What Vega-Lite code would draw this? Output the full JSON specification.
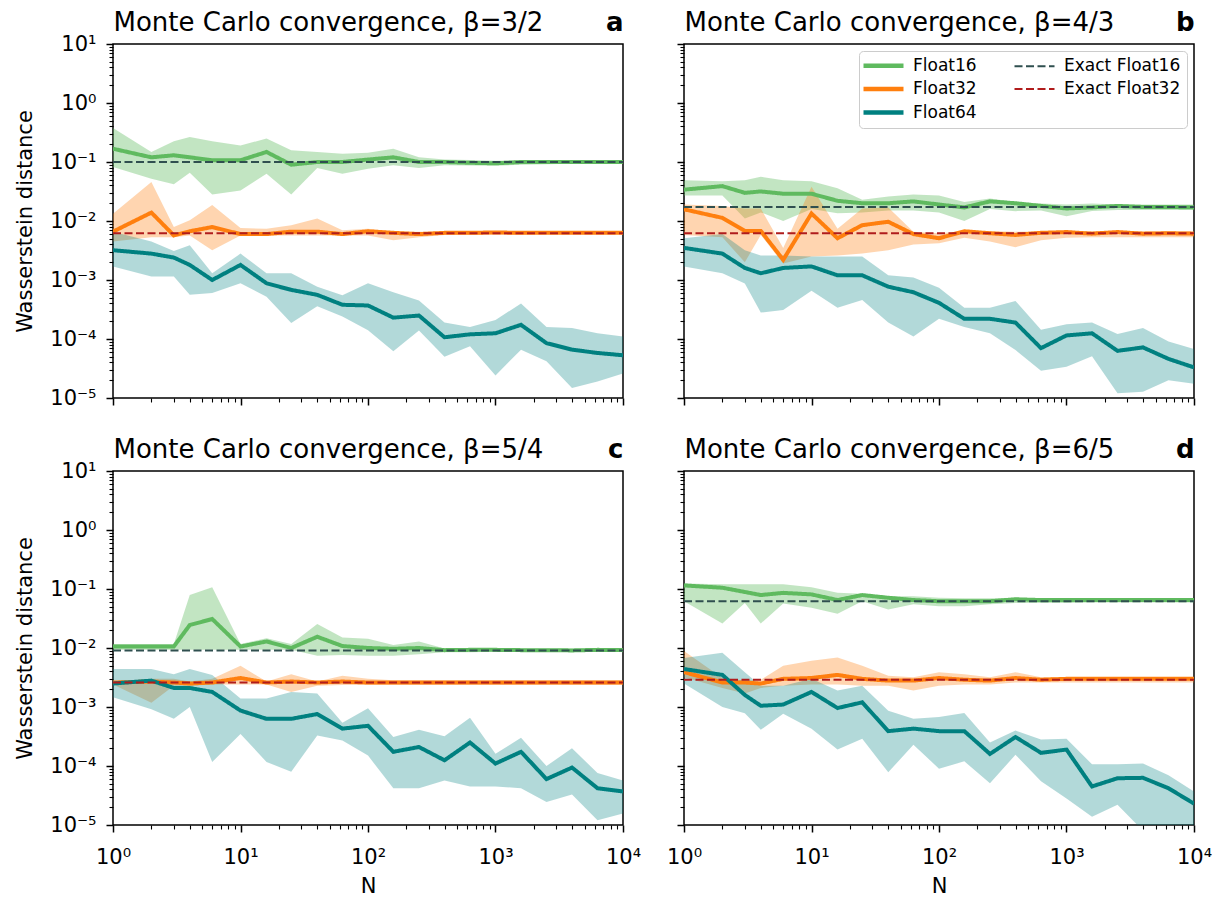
{
  "$schema": "https://vega.github.io/schema/vega-lite/v6.json",
  "background": "white",
  "padding": {"left": 13, "top": 8, "right": 6, "bottom": 4},
  "columns": 2,
  "spacing": {"row": 73, "column": 61},
  "bounds": "flush",
  "resolve": {
    "scale": {"color": "independent", "strokeDash": "independent"},
    "legend": {"color": "independent", "strokeDash": "independent"}
  },
  "config": {
    "font": "DejaVu Sans",
    "view": {"stroke": "black", "strokeWidth": 1.5},
    "axis": {
      "domain": false, "grid": false,
      "tickColor": "black", "labelColor": "black", "titleColor": "black",
      "labelFont": "DejaVu Sans", "titleFont": "DejaVu Sans",
      "labelFontSize": 21, "titleFontSize": 21, "titleFontWeight": "normal",
      "labelOverlap": false, "labelFlush": false, "labelBound": false
    },
    "legend": {
      "symbolSize": 400, "symbolStrokeWidth": 4,
      "labelFont": "DejaVu Sans", "labelFontSize": 17, "labelColor": "black",
      "labelOffset": 31, "columnPadding": 33, "rowPadding": 4.5, "padding": 6,
      "strokeColor": "#cccccc", "fillColor": "white", "cornerRadius": 4
    }
  },
  "datasets": {
    "mc": [
      {"panel":"a","series":"Float16","N":1,"value":0.168,"lower":0.082,"upper":0.376},
      {"panel":"a","series":"Float16","N":2,"value":0.12,"lower":0.052,"upper":0.148},
      {"panel":"a","series":"Float16","N":3,"value":0.13,"lower":0.042,"upper":0.224},
      {"panel":"a","series":"Float16","N":4,"value":0.12,"lower":0.066,"upper":0.265},
      {"panel":"a","series":"Float16","N":6,"value":0.107,"lower":0.028,"upper":0.224},
      {"panel":"a","series":"Float16","N":10,"value":0.107,"lower":0.033,"upper":0.19},
      {"panel":"a","series":"Float16","N":16,"value":0.148,"lower":0.063,"upper":0.25},
      {"panel":"a","series":"Float16","N":25,"value":0.09,"lower":0.028,"upper":0.158},
      {"panel":"a","series":"Float16","N":40,"value":0.1,"lower":0.079,"upper":0.148},
      {"panel":"a","series":"Float16","N":63,"value":0.1,"lower":0.063,"upper":0.138},
      {"panel":"a","series":"Float16","N":100,"value":0.11,"lower":0.077,"upper":0.143},
      {"panel":"a","series":"Float16","N":158,"value":0.12,"lower":0.088,"upper":0.168},
      {"panel":"a","series":"Float16","N":251,"value":0.1,"lower":0.079,"upper":0.12},
      {"panel":"a","series":"Float16","N":398,"value":0.1,"lower":0.088,"upper":0.11},
      {"panel":"a","series":"Float16","N":631,"value":0.097,"lower":0.087,"upper":0.108},
      {"panel":"a","series":"Float16","N":1000,"value":0.095,"lower":0.086,"upper":0.105},
      {"panel":"a","series":"Float16","N":1585,"value":0.1,"lower":0.09,"upper":0.107},
      {"panel":"a","series":"Float16","N":2512,"value":0.1,"lower":0.092,"upper":0.106},
      {"panel":"a","series":"Float16","N":3981,"value":0.1,"lower":0.093,"upper":0.106},
      {"panel":"a","series":"Float16","N":6310,"value":0.1,"lower":0.094,"upper":0.105},
      {"panel":"a","series":"Float16","N":10000,"value":0.1,"lower":0.095,"upper":0.105},
      {"panel":"a","series":"Float32","N":1,"value":0.0066,"lower":0.0045,"upper":0.0133},
      {"panel":"a","series":"Float32","N":2,"value":0.0139,"lower":0.0053,"upper":0.046},
      {"panel":"a","series":"Float32","N":3,"value":0.0057,"lower":0.0053,"upper":0.0079},
      {"panel":"a","series":"Float32","N":4,"value":0.0067,"lower":0.0057,"upper":0.0103},
      {"panel":"a","series":"Float32","N":6,"value":0.0079,"lower":0.0032,"upper":0.0186},
      {"panel":"a","series":"Float32","N":10,"value":0.006,"lower":0.0057,"upper":0.0076},
      {"panel":"a","series":"Float32","N":16,"value":0.006,"lower":0.0057,"upper":0.0074},
      {"panel":"a","series":"Float32","N":25,"value":0.0066,"lower":0.0057,"upper":0.0085},
      {"panel":"a","series":"Float32","N":40,"value":0.0066,"lower":0.0057,"upper":0.011},
      {"panel":"a","series":"Float32","N":63,"value":0.006,"lower":0.0057,"upper":0.007},
      {"panel":"a","series":"Float32","N":100,"value":0.0067,"lower":0.0057,"upper":0.0074},
      {"panel":"a","series":"Float32","N":158,"value":0.0063,"lower":0.0047,"upper":0.0066},
      {"panel":"a","series":"Float32","N":251,"value":0.006,"lower":0.0053,"upper":0.0066},
      {"panel":"a","series":"Float32","N":398,"value":0.0063,"lower":0.0058,"upper":0.0066},
      {"panel":"a","series":"Float32","N":631,"value":0.0063,"lower":0.0058,"upper":0.0066},
      {"panel":"a","series":"Float32","N":1000,"value":0.0064,"lower":0.0059,"upper":0.0066},
      {"panel":"a","series":"Float32","N":1585,"value":0.0063,"lower":0.0059,"upper":0.0066},
      {"panel":"a","series":"Float32","N":2512,"value":0.0063,"lower":0.006,"upper":0.0066},
      {"panel":"a","series":"Float32","N":3981,"value":0.0063,"lower":0.006,"upper":0.0066},
      {"panel":"a","series":"Float32","N":6310,"value":0.0063,"lower":0.006,"upper":0.0066},
      {"panel":"a","series":"Float32","N":10000,"value":0.0063,"lower":0.006,"upper":0.0066},
      {"panel":"a","series":"Float64","N":1,"value":0.0032,"lower":0.0017,"upper":0.0066},
      {"panel":"a","series":"Float64","N":2,"value":0.0028,"lower":0.00115,"upper":0.0045},
      {"panel":"a","series":"Float64","N":3,"value":0.0024,"lower":0.00115,"upper":0.0031},
      {"panel":"a","series":"Float64","N":4,"value":0.0018,"lower":0.00056,"upper":0.0039},
      {"panel":"a","series":"Float64","N":6,"value":0.001,"lower":0.0006,"upper":0.0013},
      {"panel":"a","series":"Float64","N":10,"value":0.0018,"lower":0.00088,"upper":0.0028},
      {"panel":"a","series":"Float64","N":16,"value":0.00088,"lower":0.00052,"upper":0.0013},
      {"panel":"a","series":"Float64","N":25,"value":0.00068,"lower":0.000186,"upper":0.0013},
      {"panel":"a","series":"Float64","N":40,"value":0.00056,"lower":0.00036,"upper":0.00077},
      {"panel":"a","series":"Float64","N":63,"value":0.00038,"lower":0.00024,"upper":0.00055},
      {"panel":"a","series":"Float64","N":100,"value":0.00037,"lower":0.000141,"upper":0.00088},
      {"panel":"a","series":"Float64","N":158,"value":0.00023,"lower":0.000062,"upper":0.00062},
      {"panel":"a","series":"Float64","N":251,"value":0.00025,"lower":0.00014,"upper":0.00045},
      {"panel":"a","series":"Float64","N":398,"value":0.000107,"lower":0.00005,"upper":0.00019},
      {"panel":"a","series":"Float64","N":631,"value":0.00012,"lower":0.000075,"upper":0.00016},
      {"panel":"a","series":"Float64","N":1000,"value":0.000125,"lower":0.000024,"upper":0.00021},
      {"panel":"a","series":"Float64","N":1585,"value":0.000174,"lower":0.000066,"upper":0.0004},
      {"panel":"a","series":"Float64","N":2512,"value":0.000085,"lower":0.000042,"upper":0.00016},
      {"panel":"a","series":"Float64","N":3981,"value":0.000066,"lower":0.0000148,"upper":0.000153},
      {"panel":"a","series":"Float64","N":6310,"value":0.000058,"lower":0.000019,"upper":0.000125},
      {"panel":"a","series":"Float64","N":10000,"value":0.000053,"lower":0.000026,"upper":0.00011},

      {"panel":"b","series":"Float16","N":1,"value":0.034,"lower":0.027,"upper":0.049},
      {"panel":"b","series":"Float16","N":2,"value":0.039,"lower":0.027,"upper":0.047},
      {"panel":"b","series":"Float16","N":3,"value":0.03,"lower":0.011,"upper":0.049},
      {"panel":"b","series":"Float16","N":4,"value":0.0317,"lower":0.014,"upper":0.056},
      {"panel":"b","series":"Float16","N":6,"value":0.029,"lower":0.01,"upper":0.049},
      {"panel":"b","series":"Float16","N":10,"value":0.029,"lower":0.016,"upper":0.047},
      {"panel":"b","series":"Float16","N":16,"value":0.022,"lower":0.0135,"upper":0.036},
      {"panel":"b","series":"Float16","N":25,"value":0.02,"lower":0.014,"upper":0.023},
      {"panel":"b","series":"Float16","N":40,"value":0.02,"lower":0.0151,"upper":0.026},
      {"panel":"b","series":"Float16","N":63,"value":0.0215,"lower":0.0151,"upper":0.028},
      {"panel":"b","series":"Float16","N":100,"value":0.019,"lower":0.014,"upper":0.027},
      {"panel":"b","series":"Float16","N":158,"value":0.017,"lower":0.01,"upper":0.021},
      {"panel":"b","series":"Float16","N":251,"value":0.0215,"lower":0.016,"upper":0.024},
      {"panel":"b","series":"Float16","N":398,"value":0.02,"lower":0.0147,"upper":0.021},
      {"panel":"b","series":"Float16","N":631,"value":0.018,"lower":0.0151,"upper":0.0198},
      {"panel":"b","series":"Float16","N":1000,"value":0.0163,"lower":0.012,"upper":0.019},
      {"panel":"b","series":"Float16","N":1585,"value":0.017,"lower":0.0148,"upper":0.0198},
      {"panel":"b","series":"Float16","N":2512,"value":0.018,"lower":0.0153,"upper":0.019},
      {"panel":"b","series":"Float16","N":3981,"value":0.0173,"lower":0.0153,"upper":0.019},
      {"panel":"b","series":"Float16","N":6310,"value":0.0173,"lower":0.0153,"upper":0.019},
      {"panel":"b","series":"Float16","N":10000,"value":0.017,"lower":0.0153,"upper":0.019},
      {"panel":"b","series":"Float32","N":1,"value":0.0158,"lower":0.0058,"upper":0.019},
      {"panel":"b","series":"Float32","N":2,"value":0.0113,"lower":0.0053,"upper":0.018},
      {"panel":"b","series":"Float32","N":3,"value":0.0068,"lower":0.002,"upper":0.0163},
      {"panel":"b","series":"Float32","N":4,"value":0.0068,"lower":0.0058,"upper":0.0163},
      {"panel":"b","series":"Float32","N":6,"value":0.0022,"lower":0.0019,"upper":0.0035},
      {"panel":"b","series":"Float32","N":10,"value":0.0134,"lower":0.0025,"upper":0.038},
      {"panel":"b","series":"Float32","N":16,"value":0.0051,"lower":0.0026,"upper":0.0074},
      {"panel":"b","series":"Float32","N":25,"value":0.0085,"lower":0.0028,"upper":0.0163},
      {"panel":"b","series":"Float32","N":40,"value":0.0097,"lower":0.0032,"upper":0.017},
      {"panel":"b","series":"Float32","N":63,"value":0.006,"lower":0.004,"upper":0.0066},
      {"panel":"b","series":"Float32","N":100,"value":0.0051,"lower":0.0042,"upper":0.0062},
      {"panel":"b","series":"Float32","N":158,"value":0.0067,"lower":0.0052,"upper":0.0068},
      {"panel":"b","series":"Float32","N":251,"value":0.0062,"lower":0.0045,"upper":0.0068},
      {"panel":"b","series":"Float32","N":398,"value":0.0058,"lower":0.0036,"upper":0.0066},
      {"panel":"b","series":"Float32","N":631,"value":0.0063,"lower":0.0047,"upper":0.0067},
      {"panel":"b","series":"Float32","N":1000,"value":0.0065,"lower":0.0052,"upper":0.0067},
      {"panel":"b","series":"Float32","N":1585,"value":0.0061,"lower":0.0053,"upper":0.0067},
      {"panel":"b","series":"Float32","N":2512,"value":0.0065,"lower":0.0053,"upper":0.0067},
      {"panel":"b","series":"Float32","N":3981,"value":0.0061,"lower":0.0053,"upper":0.0067},
      {"panel":"b","series":"Float32","N":6310,"value":0.0062,"lower":0.0053,"upper":0.0067},
      {"panel":"b","series":"Float32","N":10000,"value":0.0061,"lower":0.0053,"upper":0.0067},
      {"panel":"b","series":"Float64","N":1,"value":0.0035,"lower":0.0017,"upper":0.0051},
      {"panel":"b","series":"Float64","N":2,"value":0.0028,"lower":0.0013,"upper":0.006},
      {"panel":"b","series":"Float64","N":3,"value":0.0016,"lower":0.00087,"upper":0.0032},
      {"panel":"b","series":"Float64","N":4,"value":0.0013,"lower":0.00028,"upper":0.0026},
      {"panel":"b","series":"Float64","N":6,"value":0.0016,"lower":0.00031,"upper":0.0026},
      {"panel":"b","series":"Float64","N":10,"value":0.0017,"lower":0.00066,"upper":0.0025},
      {"panel":"b","series":"Float64","N":16,"value":0.0012,"lower":0.00034,"upper":0.0025},
      {"panel":"b","series":"Float64","N":25,"value":0.0012,"lower":0.00046,"upper":0.0025},
      {"panel":"b","series":"Float64","N":40,"value":0.00077,"lower":0.00019,"upper":0.0012},
      {"panel":"b","series":"Float64","N":63,"value":0.00062,"lower":0.00011,"upper":0.0011},
      {"panel":"b","series":"Float64","N":100,"value":0.00041,"lower":0.00022,"upper":0.00074},
      {"panel":"b","series":"Float64","N":158,"value":0.00022,"lower":0.00016,"upper":0.00034},
      {"panel":"b","series":"Float64","N":251,"value":0.00022,"lower":0.000125,"upper":0.00034},
      {"panel":"b","series":"Float64","N":398,"value":0.00019,"lower":0.000065,"upper":0.00044},
      {"panel":"b","series":"Float64","N":631,"value":0.00007,"lower":0.000029,"upper":0.000143},
      {"panel":"b","series":"Float64","N":1000,"value":0.000115,"lower":0.000034,"upper":0.000178},
      {"panel":"b","series":"Float64","N":1585,"value":0.000125,"lower":0.000051,"upper":0.00019},
      {"panel":"b","series":"Float64","N":2512,"value":0.000063,"lower":0.000012,"upper":0.000122},
      {"panel":"b","series":"Float64","N":3981,"value":0.000072,"lower":0.0000128,"upper":0.000153},
      {"panel":"b","series":"Float64","N":6310,"value":0.000046,"lower":0.00002,"upper":0.000091},
      {"panel":"b","series":"Float64","N":10000,"value":0.000033,"lower":0.0000175,"upper":0.000068},

      {"panel":"c","series":"Float16","N":1,"value":0.0106,"lower":0.0093,"upper":0.0117},
      {"panel":"c","series":"Float16","N":2,"value":0.0106,"lower":0.0093,"upper":0.0117},
      {"panel":"c","series":"Float16","N":3,"value":0.0106,"lower":0.0093,"upper":0.0117},
      {"panel":"c","series":"Float16","N":4,"value":0.0245,"lower":0.0093,"upper":0.079},
      {"panel":"c","series":"Float16","N":6,"value":0.031,"lower":0.0093,"upper":0.107},
      {"panel":"c","series":"Float16","N":10,"value":0.0106,"lower":0.0093,"upper":0.0117},
      {"panel":"c","series":"Float16","N":16,"value":0.0129,"lower":0.0093,"upper":0.0146},
      {"panel":"c","series":"Float16","N":25,"value":0.01,"lower":0.0093,"upper":0.0117},
      {"panel":"c","series":"Float16","N":40,"value":0.0155,"lower":0.0074,"upper":0.0255},
      {"panel":"c","series":"Float16","N":63,"value":0.0108,"lower":0.0076,"upper":0.015},
      {"panel":"c","series":"Float16","N":100,"value":0.01,"lower":0.0074,"upper":0.0143},
      {"panel":"c","series":"Float16","N":158,"value":0.0097,"lower":0.0074,"upper":0.0112},
      {"panel":"c","series":"Float16","N":251,"value":0.01,"lower":0.0078,"upper":0.0129},
      {"panel":"c","series":"Float16","N":398,"value":0.0092,"lower":0.0085,"upper":0.0098},
      {"panel":"c","series":"Float16","N":631,"value":0.0093,"lower":0.0085,"upper":0.0099},
      {"panel":"c","series":"Float16","N":1000,"value":0.0093,"lower":0.0086,"upper":0.0097},
      {"panel":"c","series":"Float16","N":1585,"value":0.0092,"lower":0.0086,"upper":0.0097},
      {"panel":"c","series":"Float16","N":2512,"value":0.0092,"lower":0.0086,"upper":0.0097},
      {"panel":"c","series":"Float16","N":3981,"value":0.0091,"lower":0.0086,"upper":0.0097},
      {"panel":"c","series":"Float16","N":6310,"value":0.0093,"lower":0.0086,"upper":0.0097},
      {"panel":"c","series":"Float16","N":10000,"value":0.0092,"lower":0.0086,"upper":0.0097},
      {"panel":"c","series":"Float32","N":1,"value":0.0026,"lower":0.0024,"upper":0.0027},
      {"panel":"c","series":"Float32","N":2,"value":0.0027,"lower":0.00118,"upper":0.003},
      {"panel":"c","series":"Float32","N":3,"value":0.0026,"lower":0.0023,"upper":0.003},
      {"panel":"c","series":"Float32","N":4,"value":0.0025,"lower":0.0023,"upper":0.0027},
      {"panel":"c","series":"Float32","N":6,"value":0.0026,"lower":0.0024,"upper":0.003},
      {"panel":"c","series":"Float32","N":10,"value":0.0031,"lower":0.0024,"upper":0.005},
      {"panel":"c","series":"Float32","N":16,"value":0.0026,"lower":0.0024,"upper":0.0027},
      {"panel":"c","series":"Float32","N":25,"value":0.0027,"lower":0.0018,"upper":0.0036},
      {"panel":"c","series":"Float32","N":40,"value":0.0026,"lower":0.0023,"upper":0.0027},
      {"panel":"c","series":"Float32","N":63,"value":0.0027,"lower":0.00235,"upper":0.0034},
      {"panel":"c","series":"Float32","N":100,"value":0.0026,"lower":0.00235,"upper":0.003},
      {"panel":"c","series":"Float32","N":158,"value":0.0026,"lower":0.00235,"upper":0.00285},
      {"panel":"c","series":"Float32","N":251,"value":0.0026,"lower":0.00235,"upper":0.00285},
      {"panel":"c","series":"Float32","N":398,"value":0.0026,"lower":0.00235,"upper":0.00285},
      {"panel":"c","series":"Float32","N":631,"value":0.0026,"lower":0.00235,"upper":0.00285},
      {"panel":"c","series":"Float32","N":1000,"value":0.0026,"lower":0.00235,"upper":0.00285},
      {"panel":"c","series":"Float32","N":1585,"value":0.0026,"lower":0.00235,"upper":0.00285},
      {"panel":"c","series":"Float32","N":2512,"value":0.0026,"lower":0.00235,"upper":0.00285},
      {"panel":"c","series":"Float32","N":3981,"value":0.0026,"lower":0.00235,"upper":0.00285},
      {"panel":"c","series":"Float32","N":6310,"value":0.0026,"lower":0.00235,"upper":0.00285},
      {"panel":"c","series":"Float32","N":10000,"value":0.0026,"lower":0.00235,"upper":0.00285},
      {"panel":"c","series":"Float64","N":1,"value":0.0025,"lower":0.00146,"upper":0.0044},
      {"panel":"c","series":"Float64","N":2,"value":0.0028,"lower":0.00092,"upper":0.0044},
      {"panel":"c","series":"Float64","N":3,"value":0.0021,"lower":0.00063,"upper":0.0036},
      {"panel":"c","series":"Float64","N":4,"value":0.0021,"lower":0.001,"upper":0.0044},
      {"panel":"c","series":"Float64","N":6,"value":0.0018,"lower":0.000117,"upper":0.0035},
      {"panel":"c","series":"Float64","N":10,"value":0.00087,"lower":0.00035,"upper":0.0014},
      {"panel":"c","series":"Float64","N":16,"value":0.00063,"lower":0.000117,"upper":0.0014},
      {"panel":"c","series":"Float64","N":25,"value":0.00063,"lower":0.00008,"upper":0.0018},
      {"panel":"c","series":"Float64","N":40,"value":0.00076,"lower":0.00033,"upper":0.0017},
      {"panel":"c","series":"Float64","N":63,"value":0.00043,"lower":0.00027,"upper":0.00054},
      {"panel":"c","series":"Float64","N":100,"value":0.00048,"lower":0.00015,"upper":0.00095},
      {"panel":"c","series":"Float64","N":158,"value":0.000174,"lower":0.000042,"upper":0.00031},
      {"panel":"c","series":"Float64","N":251,"value":0.00021,"lower":0.000042,"upper":0.00041},
      {"panel":"c","series":"Float64","N":398,"value":0.000125,"lower":0.000057,"upper":0.00032},
      {"panel":"c","series":"Float64","N":631,"value":0.00025,"lower":0.000045,"upper":0.00066},
      {"panel":"c","series":"Float64","N":1000,"value":0.00011,"lower":0.000045,"upper":0.000162},
      {"panel":"c","series":"Float64","N":1585,"value":0.000174,"lower":0.000042,"upper":0.0003},
      {"panel":"c","series":"Float64","N":2512,"value":0.00006,"lower":0.0000246,"upper":0.0001},
      {"panel":"c","series":"Float64","N":3981,"value":0.000094,"lower":0.000033,"upper":0.0002},
      {"panel":"c","series":"Float64","N":6310,"value":0.000042,"lower":0.000012,"upper":0.000076},
      {"panel":"c","series":"Float64","N":10000,"value":0.000037,"lower":0.0000156,"upper":0.000057},

      {"panel":"d","series":"Float16","N":1,"value":0.115,"lower":0.062,"upper":0.124},
      {"panel":"d","series":"Float16","N":2,"value":0.105,"lower":0.026,"upper":0.12},
      {"panel":"d","series":"Float16","N":3,"value":0.089,"lower":0.058,"upper":0.12},
      {"panel":"d","series":"Float16","N":4,"value":0.079,"lower":0.026,"upper":0.12},
      {"panel":"d","series":"Float16","N":6,"value":0.086,"lower":0.057,"upper":0.12},
      {"panel":"d","series":"Float16","N":10,"value":0.081,"lower":0.048,"upper":0.107},
      {"panel":"d","series":"Float16","N":16,"value":0.065,"lower":0.038,"upper":0.086},
      {"panel":"d","series":"Float16","N":25,"value":0.079,"lower":0.062,"upper":0.083},
      {"panel":"d","series":"Float16","N":40,"value":0.071,"lower":0.045,"upper":0.075},
      {"panel":"d","series":"Float16","N":63,"value":0.065,"lower":0.055,"upper":0.075},
      {"panel":"d","series":"Float16","N":100,"value":0.062,"lower":0.051,"upper":0.071},
      {"panel":"d","series":"Float16","N":158,"value":0.062,"lower":0.051,"upper":0.07},
      {"panel":"d","series":"Float16","N":251,"value":0.062,"lower":0.055,"upper":0.07},
      {"panel":"d","series":"Float16","N":398,"value":0.067,"lower":0.058,"upper":0.071},
      {"panel":"d","series":"Float16","N":631,"value":0.065,"lower":0.058,"upper":0.069},
      {"panel":"d","series":"Float16","N":1000,"value":0.065,"lower":0.058,"upper":0.069},
      {"panel":"d","series":"Float16","N":1585,"value":0.065,"lower":0.059,"upper":0.069},
      {"panel":"d","series":"Float16","N":2512,"value":0.065,"lower":0.059,"upper":0.069},
      {"panel":"d","series":"Float16","N":3981,"value":0.065,"lower":0.059,"upper":0.069},
      {"panel":"d","series":"Float16","N":6310,"value":0.065,"lower":0.059,"upper":0.069},
      {"panel":"d","series":"Float16","N":10000,"value":0.065,"lower":0.059,"upper":0.069},
      {"panel":"d","series":"Float32","N":1,"value":0.0039,"lower":0.0032,"upper":0.0089},
      {"panel":"d","series":"Float32","N":2,"value":0.0026,"lower":0.0021,"upper":0.0031},
      {"panel":"d","series":"Float32","N":3,"value":0.0026,"lower":0.0017,"upper":0.0028},
      {"panel":"d","series":"Float32","N":4,"value":0.0025,"lower":0.0021,"upper":0.0029},
      {"panel":"d","series":"Float32","N":6,"value":0.003,"lower":0.0023,"upper":0.005},
      {"panel":"d","series":"Float32","N":10,"value":0.0031,"lower":0.0024,"upper":0.0061},
      {"panel":"d","series":"Float32","N":16,"value":0.0035,"lower":0.0024,"upper":0.0069},
      {"panel":"d","series":"Float32","N":25,"value":0.003,"lower":0.0023,"upper":0.005},
      {"panel":"d","series":"Float32","N":40,"value":0.0028,"lower":0.0023,"upper":0.0034},
      {"panel":"d","series":"Float32","N":63,"value":0.0028,"lower":0.0019,"upper":0.0032},
      {"panel":"d","series":"Float32","N":100,"value":0.0031,"lower":0.0023,"upper":0.0039},
      {"panel":"d","series":"Float32","N":158,"value":0.0029,"lower":0.0024,"upper":0.0036},
      {"panel":"d","series":"Float32","N":251,"value":0.0028,"lower":0.0024,"upper":0.0032},
      {"panel":"d","series":"Float32","N":398,"value":0.0031,"lower":0.0026,"upper":0.0039},
      {"panel":"d","series":"Float32","N":631,"value":0.0029,"lower":0.0026,"upper":0.0032},
      {"panel":"d","series":"Float32","N":1000,"value":0.003,"lower":0.0026,"upper":0.0032},
      {"panel":"d","series":"Float32","N":1585,"value":0.003,"lower":0.0026,"upper":0.0032},
      {"panel":"d","series":"Float32","N":2512,"value":0.003,"lower":0.0026,"upper":0.0032},
      {"panel":"d","series":"Float32","N":3981,"value":0.003,"lower":0.0026,"upper":0.0032},
      {"panel":"d","series":"Float32","N":6310,"value":0.003,"lower":0.0026,"upper":0.0032},
      {"panel":"d","series":"Float32","N":10000,"value":0.003,"lower":0.0026,"upper":0.0032},
      {"panel":"d","series":"Float64","N":1,"value":0.0044,"lower":0.0025,"upper":0.0068},
      {"panel":"d","series":"Float64","N":2,"value":0.0035,"lower":0.001,"upper":0.0083},
      {"panel":"d","series":"Float64","N":3,"value":0.0016,"lower":0.00078,"upper":0.0039},
      {"panel":"d","series":"Float64","N":4,"value":0.00105,"lower":0.00041,"upper":0.0023},
      {"panel":"d","series":"Float64","N":6,"value":0.0011,"lower":0.00077,"upper":0.0023},
      {"panel":"d","series":"Float64","N":10,"value":0.0018,"lower":0.00043,"upper":0.003},
      {"panel":"d","series":"Float64","N":16,"value":0.00096,"lower":0.00019,"upper":0.0019},
      {"panel":"d","series":"Float64","N":25,"value":0.0012,"lower":0.00029,"upper":0.0023},
      {"panel":"d","series":"Float64","N":40,"value":0.00039,"lower":0.000078,"upper":0.00086},
      {"panel":"d","series":"Float64","N":63,"value":0.00043,"lower":0.00023,"upper":0.00063},
      {"panel":"d","series":"Float64","N":100,"value":0.00039,"lower":0.00009,"upper":0.00068},
      {"panel":"d","series":"Float64","N":158,"value":0.00039,"lower":0.00012,"upper":0.00079},
      {"panel":"d","series":"Float64","N":251,"value":0.00016,"lower":0.000051,"upper":0.00025},
      {"panel":"d","series":"Float64","N":398,"value":0.00031,"lower":0.000155,"upper":0.0004},
      {"panel":"d","series":"Float64","N":631,"value":0.000167,"lower":0.000055,"upper":0.00028},
      {"panel":"d","series":"Float64","N":1000,"value":0.00019,"lower":0.000028,"upper":0.00029},
      {"panel":"d","series":"Float64","N":1585,"value":0.000045,"lower":0.0000138,"upper":0.000107},
      {"panel":"d","series":"Float64","N":2512,"value":0.000062,"lower":0.000022,"upper":0.000107},
      {"panel":"d","series":"Float64","N":3981,"value":0.000063,"lower":0.000008,"upper":0.00011},
      {"panel":"d","series":"Float64","N":6310,"value":0.000042,"lower":0.0000058,"upper":0.00007},
      {"panel":"d","series":"Float64","N":10000,"value":0.000023,"lower":0.0000049,"upper":0.000037}
    ],
    "exact": [
      {"panel":"a","series":"Exact Float16","N":1,"value":0.1},
      {"panel":"a","series":"Exact Float16","N":10000,"value":0.1},
      {"panel":"a","series":"Exact Float32","N":1,"value":0.0062},
      {"panel":"a","series":"Exact Float32","N":10000,"value":0.0062},
      {"panel":"b","series":"Exact Float16","N":1,"value":0.0173},
      {"panel":"b","series":"Exact Float16","N":10000,"value":0.0173},
      {"panel":"b","series":"Exact Float32","N":1,"value":0.0062},
      {"panel":"b","series":"Exact Float32","N":10000,"value":0.0062},
      {"panel":"c","series":"Exact Float16","N":1,"value":0.0091},
      {"panel":"c","series":"Exact Float16","N":10000,"value":0.0091},
      {"panel":"c","series":"Exact Float32","N":1,"value":0.0026},
      {"panel":"c","series":"Exact Float32","N":10000,"value":0.0026},
      {"panel":"d","series":"Exact Float16","N":1,"value":0.062},
      {"panel":"d","series":"Exact Float16","N":10000,"value":0.062},
      {"panel":"d","series":"Exact Float32","N":1,"value":0.0029},
      {"panel":"d","series":"Exact Float32","N":10000,"value":0.0029}
    ]
  },
  "concat": [
    {
      "width": 510, "height": 354,
      "resolve": {"axis": {"x": "independent"}},
      "layer": [
        {
          "data": {"name": "mc"},
          "transform": [{"filter": "datum.panel == 'a' && datum.series == 'Float16'"}],
          "mark": {"type": "area", "color": "#5fba5f", "opacity": 0.38, "clip": true},
          "encoding": {
            "x": {"field": "N", "type": "quantitative", "scale": {"type": "log", "domain": [1, 10000], "nice": false},
              "axis": {"orient": "bottom", "values": [1,2,3,4,5,6,7,8,9,10,20,30,40,50,60,70,80,90,100,200,300,400,500,600,700,800,900,1000,2000,3000,4000,5000,6000,7000,8000,9000,10000],
                "labels": false, "title": null,
                "tickSize": {"condition": {"test": "indexof([1,10,100,1000,10000], datum.value) >= 0", "value": 7}, "value": 4},
                "tickWidth": {"condition": {"test": "indexof([1,10,100,1000,10000], datum.value) >= 0", "value": 1.5}, "value": 1.1}}},
            "y": {"field": "lower", "type": "quantitative", "scale": {"type": "log", "domain": [0.00001, 10], "nice": false},
              "axis": {"orient": "left", "values": [0.00001,0.00002,0.00003,0.00004,0.00005,0.00006,0.00007,0.00008,0.00009,0.0001,0.0002,0.0003,0.0004,0.0005,0.0006,0.0007,0.0008,0.0009,0.001,0.002,0.003,0.004,0.005,0.006,0.007,0.008,0.009,0.01,0.02,0.03,0.04,0.05,0.06,0.07,0.08,0.09,0.1,0.2,0.3,0.4,0.5,0.6,0.7,0.8,0.9,1,2,3,4,5,6,7,8,9,10],
                "labelExpr": "datum.value == 10 ? '10¹' : datum.value == 1 ? '10⁰' : datum.value == 0.1 ? '10⁻¹' : datum.value == 0.01 ? '10⁻²' : datum.value == 0.001 ? '10⁻³' : datum.value == 0.0001 ? '10⁻⁴' : datum.value == 0.00001 ? '10⁻⁵' : ''",
                "labelPadding": 10,
                "tickSize": {"condition": {"test": "indexof([0.00001,0.0001,0.001,0.01,0.1,1,10], datum.value) >= 0", "value": 7}, "value": 4},
                "tickWidth": {"condition": {"test": "indexof([0.00001,0.0001,0.001,0.01,0.1,1,10], datum.value) >= 0", "value": 1.5}, "value": 1.1},
                "title": "Wasserstein distance", "titleX": -82, "titleY": 177, "titleAngle": 270, "titleAlign": "center", "titleBaseline": "alphabetic"}},
            "y2": {"field": "upper"}
          }
        },
        {
          "data": {"name": "mc"},
          "transform": [{"filter": "datum.panel == 'a' && datum.series == 'Float32'"}],
          "mark": {"type": "area", "color": "#ff7f0e", "opacity": 0.33, "clip": true},
          "encoding": {
            "x": {"field": "N", "type": "quantitative", "axis": null},
            "y": {"field": "lower", "type": "quantitative"},
            "y2": {"field": "upper"}
          }
        },
        {
          "data": {"name": "mc"},
          "transform": [{"filter": "datum.panel == 'a' && datum.series == 'Float64'"}],
          "mark": {"type": "area", "color": "#008080", "opacity": 0.3, "clip": true},
          "encoding": {
            "x": {"field": "N", "type": "quantitative", "axis": null},
            "y": {"field": "lower", "type": "quantitative"},
            "y2": {"field": "upper"}
          }
        },
        {
          "data": {"name": "mc"},
          "transform": [{"filter": "datum.panel == 'a'"}],
          "mark": {"type": "line", "strokeWidth": 4, "clip": true},
          "encoding": {
            "x": {"field": "N", "type": "quantitative", "axis": {"orient": "top", "ticks": false, "labels": false, "domain": false, "title": "a", "titleFontSize": 26, "titleFontWeight": "bold", "titleX": 510, "titleY": -14, "titleAlign": "right", "titleBaseline": "alphabetic", "titleAngle": 0}},
            "y": {"field": "value", "type": "quantitative"},
            "color": {"field": "series", "type": "nominal", "scale": {"domain": ["Float16", "Float32", "Float64", "Exact Float16", "Exact Float32"], "range": ["#5fba5f", "#ff7f0e", "#008080", "#2f4f4f", "#b01c1c"]}, "legend": null},
            "strokeDash": {"field": "series", "type": "nominal", "scale": {"domain": ["Float16", "Float32", "Float64", "Exact Float16", "Exact Float32"], "range": [[1,0],[1,0],[1,0],[8,3.5],[8,3.5]]}, "legend": null}
          }
        },
        {
          "data": {"name": "exact"},
          "transform": [{"filter": "datum.panel == 'a'"}],
          "mark": {"type": "line", "strokeWidth": 2, "clip": true},
          "encoding": {
            "x": {"field": "N", "type": "quantitative", "axis": {"orient": "top", "ticks": false, "labels": false, "domain": false, "title": "Monte Carlo convergence, β=3/2", "titleFontSize": 26, "titleFontWeight": "normal", "titleX": 0, "titleY": -14, "titleAlign": "left", "titleBaseline": "alphabetic", "titleAngle": 0}},
            "y": {"field": "value", "type": "quantitative"},
            "color": {"field": "series", "type": "nominal", "scale": {"domain": ["Float16", "Float32", "Float64", "Exact Float16", "Exact Float32"], "range": ["#5fba5f", "#ff7f0e", "#008080", "#2f4f4f", "#b01c1c"]}, "legend": null},
            "strokeDash": {"field": "series", "type": "nominal", "scale": {"domain": ["Float16", "Float32", "Float64", "Exact Float16", "Exact Float32"], "range": [[1,0],[1,0],[1,0],[8,3.5],[8,3.5]]}, "legend": null}
          }
        }
      ]
    },
    {
      "width": 510, "height": 354,
      "resolve": {"axis": {"x": "independent"}},
      "layer": [
        {
          "data": {"name": "mc"},
          "transform": [{"filter": "datum.panel == 'b' && datum.series == 'Float16'"}],
          "mark": {"type": "area", "color": "#5fba5f", "opacity": 0.38, "clip": true},
          "encoding": {
            "x": {"field": "N", "type": "quantitative", "scale": {"type": "log", "domain": [1, 10000], "nice": false},
              "axis": {"orient": "bottom", "values": [1,2,3,4,5,6,7,8,9,10,20,30,40,50,60,70,80,90,100,200,300,400,500,600,700,800,900,1000,2000,3000,4000,5000,6000,7000,8000,9000,10000],
                "labels": false, "title": null,
                "tickSize": {"condition": {"test": "indexof([1,10,100,1000,10000], datum.value) >= 0", "value": 7}, "value": 4},
                "tickWidth": {"condition": {"test": "indexof([1,10,100,1000,10000], datum.value) >= 0", "value": 1.5}, "value": 1.1}}},
            "y": {"field": "lower", "type": "quantitative", "scale": {"type": "log", "domain": [0.00001, 10], "nice": false},
              "axis": {"orient": "left", "values": [0.00001,0.00002,0.00003,0.00004,0.00005,0.00006,0.00007,0.00008,0.00009,0.0001,0.0002,0.0003,0.0004,0.0005,0.0006,0.0007,0.0008,0.0009,0.001,0.002,0.003,0.004,0.005,0.006,0.007,0.008,0.009,0.01,0.02,0.03,0.04,0.05,0.06,0.07,0.08,0.09,0.1,0.2,0.3,0.4,0.5,0.6,0.7,0.8,0.9,1,2,3,4,5,6,7,8,9,10],
                "labels": false, "title": null,
                "tickSize": {"condition": {"test": "indexof([0.00001,0.0001,0.001,0.01,0.1,1,10], datum.value) >= 0", "value": 7}, "value": 4},
                "tickWidth": {"condition": {"test": "indexof([0.00001,0.0001,0.001,0.01,0.1,1,10], datum.value) >= 0", "value": 1.5}, "value": 1.1}}},
            "y2": {"field": "upper"}
          }
        },
        {
          "data": {"name": "mc"},
          "transform": [{"filter": "datum.panel == 'b' && datum.series == 'Float32'"}],
          "mark": {"type": "area", "color": "#ff7f0e", "opacity": 0.33, "clip": true},
          "encoding": {
            "x": {"field": "N", "type": "quantitative", "axis": null},
            "y": {"field": "lower", "type": "quantitative"},
            "y2": {"field": "upper"}
          }
        },
        {
          "data": {"name": "mc"},
          "transform": [{"filter": "datum.panel == 'b' && datum.series == 'Float64'"}],
          "mark": {"type": "area", "color": "#008080", "opacity": 0.3, "clip": true},
          "encoding": {
            "x": {"field": "N", "type": "quantitative", "axis": null},
            "y": {"field": "lower", "type": "quantitative"},
            "y2": {"field": "upper"}
          }
        },
        {
          "data": {"name": "mc"},
          "transform": [{"filter": "datum.panel == 'b'"}],
          "mark": {"type": "line", "strokeWidth": 4, "clip": true},
          "encoding": {
            "x": {"field": "N", "type": "quantitative", "axis": {"orient": "top", "ticks": false, "labels": false, "domain": false, "title": "b", "titleFontSize": 26, "titleFontWeight": "bold", "titleX": 510, "titleY": -14, "titleAlign": "right", "titleBaseline": "alphabetic", "titleAngle": 0}},
            "y": {"field": "value", "type": "quantitative"},
            "color": {"field": "series", "type": "nominal", "scale": {"domain": ["Float16", "Float32", "Float64", "Exact Float16", "Exact Float32"], "range": ["#5fba5f", "#ff7f0e", "#008080", "#2f4f4f", "#b01c1c"]},
              "legend": {"orient": "top-right", "offset": 7, "columns": 2, "title": null, "symbolType": "M-1,0H3", "encode": {"symbols": {"update": {"strokeWidth": {"signal": "indexof(['Exact Float16','Exact Float32'], datum.value) >= 0 ? 2 : 4.5"}}}}}},
            "strokeDash": {"field": "series", "type": "nominal", "scale": {"domain": ["Float16", "Float32", "Float64", "Exact Float16", "Exact Float32"], "range": [[1,0],[1,0],[1,0],[8,3.5],[8,3.5]]},
              "legend": {"orient": "top-right", "offset": 7, "columns": 2, "title": null, "symbolType": "M-1,0H3", "encode": {"symbols": {"update": {"strokeWidth": {"signal": "indexof(['Exact Float16','Exact Float32'], datum.value) >= 0 ? 2 : 4.5"}}}}}}
          }
        },
        {
          "data": {"name": "exact"},
          "transform": [{"filter": "datum.panel == 'b'"}],
          "mark": {"type": "line", "strokeWidth": 2, "clip": true},
          "encoding": {
            "x": {"field": "N", "type": "quantitative", "axis": {"orient": "top", "ticks": false, "labels": false, "domain": false, "title": "Monte Carlo convergence, β=4/3", "titleFontSize": 26, "titleFontWeight": "normal", "titleX": 0, "titleY": -14, "titleAlign": "left", "titleBaseline": "alphabetic", "titleAngle": 0}},
            "y": {"field": "value", "type": "quantitative"},
            "color": {"field": "series", "type": "nominal", "scale": {"domain": ["Float16", "Float32", "Float64", "Exact Float16", "Exact Float32"], "range": ["#5fba5f", "#ff7f0e", "#008080", "#2f4f4f", "#b01c1c"]},
              "legend": {"orient": "top-right", "offset": 7, "columns": 2, "title": null, "symbolType": "M-1,0H3", "encode": {"symbols": {"update": {"strokeWidth": {"signal": "indexof(['Exact Float16','Exact Float32'], datum.value) >= 0 ? 2 : 4.5"}}}}}},
            "strokeDash": {"field": "series", "type": "nominal", "scale": {"domain": ["Float16", "Float32", "Float64", "Exact Float16", "Exact Float32"], "range": [[1,0],[1,0],[1,0],[8,3.5],[8,3.5]]},
              "legend": {"orient": "top-right", "offset": 7, "columns": 2, "title": null, "symbolType": "M-1,0H3", "encode": {"symbols": {"update": {"strokeWidth": {"signal": "indexof(['Exact Float16','Exact Float32'], datum.value) >= 0 ? 2 : 4.5"}}}}}}
          }
        }
      ]
    },
    {
      "width": 510, "height": 354,
      "resolve": {"axis": {"x": "independent"}},
      "layer": [
        {
          "data": {"name": "mc"},
          "transform": [{"filter": "datum.panel == 'c' && datum.series == 'Float16'"}],
          "mark": {"type": "area", "color": "#5fba5f", "opacity": 0.38, "clip": true},
          "encoding": {
            "x": {"field": "N", "type": "quantitative", "scale": {"type": "log", "domain": [1, 10000], "nice": false},
              "axis": {"orient": "bottom", "values": [1,2,3,4,5,6,7,8,9,10,20,30,40,50,60,70,80,90,100,200,300,400,500,600,700,800,900,1000,2000,3000,4000,5000,6000,7000,8000,9000,10000],
                "labelExpr": "datum.value == 1 ? '10⁰' : datum.value == 10 ? '10¹' : datum.value == 100 ? '10²' : datum.value == 1000 ? '10³' : datum.value == 10000 ? '10⁴' : ''",
                "labelPadding": 14,
                "tickSize": {"condition": {"test": "indexof([1,10,100,1000,10000], datum.value) >= 0", "value": 7}, "value": 4},
                "tickWidth": {"condition": {"test": "indexof([1,10,100,1000,10000], datum.value) >= 0", "value": 1.5}, "value": 1.1},
                "title": "N", "titleY": 67, "titleBaseline": "alphabetic"}},
            "y": {"field": "lower", "type": "quantitative", "scale": {"type": "log", "domain": [0.00001, 10], "nice": false},
              "axis": {"orient": "left", "values": [0.00001,0.00002,0.00003,0.00004,0.00005,0.00006,0.00007,0.00008,0.00009,0.0001,0.0002,0.0003,0.0004,0.0005,0.0006,0.0007,0.0008,0.0009,0.001,0.002,0.003,0.004,0.005,0.006,0.007,0.008,0.009,0.01,0.02,0.03,0.04,0.05,0.06,0.07,0.08,0.09,0.1,0.2,0.3,0.4,0.5,0.6,0.7,0.8,0.9,1,2,3,4,5,6,7,8,9,10],
                "labelExpr": "datum.value == 10 ? '10¹' : datum.value == 1 ? '10⁰' : datum.value == 0.1 ? '10⁻¹' : datum.value == 0.01 ? '10⁻²' : datum.value == 0.001 ? '10⁻³' : datum.value == 0.0001 ? '10⁻⁴' : datum.value == 0.00001 ? '10⁻⁵' : ''",
                "labelPadding": 10,
                "tickSize": {"condition": {"test": "indexof([0.00001,0.0001,0.001,0.01,0.1,1,10], datum.value) >= 0", "value": 7}, "value": 4},
                "tickWidth": {"condition": {"test": "indexof([0.00001,0.0001,0.001,0.01,0.1,1,10], datum.value) >= 0", "value": 1.5}, "value": 1.1},
                "title": "Wasserstein distance", "titleX": -82, "titleY": 177, "titleAngle": 270, "titleAlign": "center", "titleBaseline": "alphabetic"}},
            "y2": {"field": "upper"}
          }
        },
        {
          "data": {"name": "mc"},
          "transform": [{"filter": "datum.panel == 'c' && datum.series == 'Float32'"}],
          "mark": {"type": "area", "color": "#ff7f0e", "opacity": 0.33, "clip": true},
          "encoding": {
            "x": {"field": "N", "type": "quantitative", "axis": null},
            "y": {"field": "lower", "type": "quantitative"},
            "y2": {"field": "upper"}
          }
        },
        {
          "data": {"name": "mc"},
          "transform": [{"filter": "datum.panel == 'c' && datum.series == 'Float64'"}],
          "mark": {"type": "area", "color": "#008080", "opacity": 0.3, "clip": true},
          "encoding": {
            "x": {"field": "N", "type": "quantitative", "axis": null},
            "y": {"field": "lower", "type": "quantitative"},
            "y2": {"field": "upper"}
          }
        },
        {
          "data": {"name": "mc"},
          "transform": [{"filter": "datum.panel == 'c'"}],
          "mark": {"type": "line", "strokeWidth": 4, "clip": true},
          "encoding": {
            "x": {"field": "N", "type": "quantitative", "axis": {"orient": "top", "ticks": false, "labels": false, "domain": false, "title": "c", "titleFontSize": 26, "titleFontWeight": "bold", "titleX": 510, "titleY": -14, "titleAlign": "right", "titleBaseline": "alphabetic", "titleAngle": 0}},
            "y": {"field": "value", "type": "quantitative"},
            "color": {"field": "series", "type": "nominal", "scale": {"domain": ["Float16", "Float32", "Float64", "Exact Float16", "Exact Float32"], "range": ["#5fba5f", "#ff7f0e", "#008080", "#2f4f4f", "#b01c1c"]}, "legend": null},
            "strokeDash": {"field": "series", "type": "nominal", "scale": {"domain": ["Float16", "Float32", "Float64", "Exact Float16", "Exact Float32"], "range": [[1,0],[1,0],[1,0],[8,3.5],[8,3.5]]}, "legend": null}
          }
        },
        {
          "data": {"name": "exact"},
          "transform": [{"filter": "datum.panel == 'c'"}],
          "mark": {"type": "line", "strokeWidth": 2, "clip": true},
          "encoding": {
            "x": {"field": "N", "type": "quantitative", "axis": {"orient": "top", "ticks": false, "labels": false, "domain": false, "title": "Monte Carlo convergence, β=5/4", "titleFontSize": 26, "titleFontWeight": "normal", "titleX": 0, "titleY": -14, "titleAlign": "left", "titleBaseline": "alphabetic", "titleAngle": 0}},
            "y": {"field": "value", "type": "quantitative"},
            "color": {"field": "series", "type": "nominal", "scale": {"domain": ["Float16", "Float32", "Float64", "Exact Float16", "Exact Float32"], "range": ["#5fba5f", "#ff7f0e", "#008080", "#2f4f4f", "#b01c1c"]}, "legend": null},
            "strokeDash": {"field": "series", "type": "nominal", "scale": {"domain": ["Float16", "Float32", "Float64", "Exact Float16", "Exact Float32"], "range": [[1,0],[1,0],[1,0],[8,3.5],[8,3.5]]}, "legend": null}
          }
        }
      ]
    },
    {
      "width": 510, "height": 354,
      "resolve": {"axis": {"x": "independent"}},
      "layer": [
        {
          "data": {"name": "mc"},
          "transform": [{"filter": "datum.panel == 'd' && datum.series == 'Float16'"}],
          "mark": {"type": "area", "color": "#5fba5f", "opacity": 0.38, "clip": true},
          "encoding": {
            "x": {"field": "N", "type": "quantitative", "scale": {"type": "log", "domain": [1, 10000], "nice": false},
              "axis": {"orient": "bottom", "values": [1,2,3,4,5,6,7,8,9,10,20,30,40,50,60,70,80,90,100,200,300,400,500,600,700,800,900,1000,2000,3000,4000,5000,6000,7000,8000,9000,10000],
                "labelExpr": "datum.value == 1 ? '10⁰' : datum.value == 10 ? '10¹' : datum.value == 100 ? '10²' : datum.value == 1000 ? '10³' : datum.value == 10000 ? '10⁴' : ''",
                "labelPadding": 14,
                "tickSize": {"condition": {"test": "indexof([1,10,100,1000,10000], datum.value) >= 0", "value": 7}, "value": 4},
                "tickWidth": {"condition": {"test": "indexof([1,10,100,1000,10000], datum.value) >= 0", "value": 1.5}, "value": 1.1},
                "title": "N", "titleY": 67, "titleBaseline": "alphabetic"}},
            "y": {"field": "lower", "type": "quantitative", "scale": {"type": "log", "domain": [0.00001, 10], "nice": false},
              "axis": {"orient": "left", "values": [0.00001,0.00002,0.00003,0.00004,0.00005,0.00006,0.00007,0.00008,0.00009,0.0001,0.0002,0.0003,0.0004,0.0005,0.0006,0.0007,0.0008,0.0009,0.001,0.002,0.003,0.004,0.005,0.006,0.007,0.008,0.009,0.01,0.02,0.03,0.04,0.05,0.06,0.07,0.08,0.09,0.1,0.2,0.3,0.4,0.5,0.6,0.7,0.8,0.9,1,2,3,4,5,6,7,8,9,10],
                "labels": false, "title": null,
                "tickSize": {"condition": {"test": "indexof([0.00001,0.0001,0.001,0.01,0.1,1,10], datum.value) >= 0", "value": 7}, "value": 4},
                "tickWidth": {"condition": {"test": "indexof([0.00001,0.0001,0.001,0.01,0.1,1,10], datum.value) >= 0", "value": 1.5}, "value": 1.1}}},
            "y2": {"field": "upper"}
          }
        },
        {
          "data": {"name": "mc"},
          "transform": [{"filter": "datum.panel == 'd' && datum.series == 'Float32'"}],
          "mark": {"type": "area", "color": "#ff7f0e", "opacity": 0.33, "clip": true},
          "encoding": {
            "x": {"field": "N", "type": "quantitative", "axis": null},
            "y": {"field": "lower", "type": "quantitative"},
            "y2": {"field": "upper"}
          }
        },
        {
          "data": {"name": "mc"},
          "transform": [{"filter": "datum.panel == 'd' && datum.series == 'Float64'"}],
          "mark": {"type": "area", "color": "#008080", "opacity": 0.3, "clip": true},
          "encoding": {
            "x": {"field": "N", "type": "quantitative", "axis": null},
            "y": {"field": "lower", "type": "quantitative"},
            "y2": {"field": "upper"}
          }
        },
        {
          "data": {"name": "mc"},
          "transform": [{"filter": "datum.panel == 'd'"}],
          "mark": {"type": "line", "strokeWidth": 4, "clip": true},
          "encoding": {
            "x": {"field": "N", "type": "quantitative", "axis": {"orient": "top", "ticks": false, "labels": false, "domain": false, "title": "d", "titleFontSize": 26, "titleFontWeight": "bold", "titleX": 510, "titleY": -14, "titleAlign": "right", "titleBaseline": "alphabetic", "titleAngle": 0}},
            "y": {"field": "value", "type": "quantitative"},
            "color": {"field": "series", "type": "nominal", "scale": {"domain": ["Float16", "Float32", "Float64", "Exact Float16", "Exact Float32"], "range": ["#5fba5f", "#ff7f0e", "#008080", "#2f4f4f", "#b01c1c"]}, "legend": null},
            "strokeDash": {"field": "series", "type": "nominal", "scale": {"domain": ["Float16", "Float32", "Float64", "Exact Float16", "Exact Float32"], "range": [[1,0],[1,0],[1,0],[8,3.5],[8,3.5]]}, "legend": null}
          }
        },
        {
          "data": {"name": "exact"},
          "transform": [{"filter": "datum.panel == 'd'"}],
          "mark": {"type": "line", "strokeWidth": 2, "clip": true},
          "encoding": {
            "x": {"field": "N", "type": "quantitative", "axis": {"orient": "top", "ticks": false, "labels": false, "domain": false, "title": "Monte Carlo convergence, β=6/5", "titleFontSize": 26, "titleFontWeight": "normal", "titleX": 0, "titleY": -14, "titleAlign": "left", "titleBaseline": "alphabetic", "titleAngle": 0}},
            "y": {"field": "value", "type": "quantitative"},
            "color": {"field": "series", "type": "nominal", "scale": {"domain": ["Float16", "Float32", "Float64", "Exact Float16", "Exact Float32"], "range": ["#5fba5f", "#ff7f0e", "#008080", "#2f4f4f", "#b01c1c"]}, "legend": null},
            "strokeDash": {"field": "series", "type": "nominal", "scale": {"domain": ["Float16", "Float32", "Float64", "Exact Float16", "Exact Float32"], "range": [[1,0],[1,0],[1,0],[8,3.5],[8,3.5]]}, "legend": null}
          }
        }
      ]
    }
  ]
}
